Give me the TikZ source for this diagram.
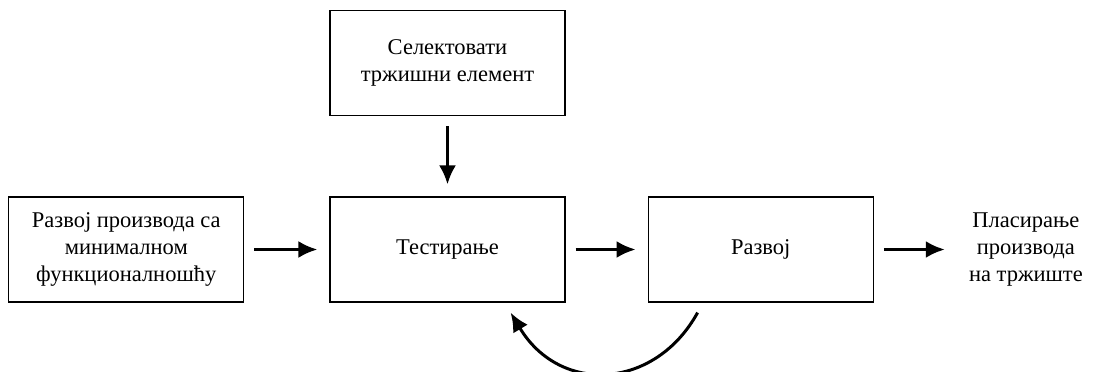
\documentclass[tikz,border=0pt]{standalone}
\usepackage{fontspec}
\setmainfont{Liberation Serif}
\usetikzlibrary{arrows.meta,positioning}

\begin{document}
\begin{tikzpicture}[
  x=1pt, y=1pt,
  node distance=85pt and 85pt,
  txt/.style={font=\fontsize{22.5}{27}\selectfont},
  box/.style={draw, line width=1.2pt, align=center, minimum width=235pt, minimum height=105pt, txt},
  arrow/.style={-{Latex[length=19pt,width=17pt]}, line width=3pt, shorten <=10pt, shorten >=12pt}
]
\useasboundingbox (0,0) rectangle (1109,-372);
\node[box] (test) at (447.5,-249.5) {Тестирање};
\node[box, left=of test] (mvp) {Развој производа са\\минималном\\функционалношћу};
\node[box, above=80pt of test] (select) {Селектовати\\тржишни елемент};
\node[box, minimum width=225pt, right=82pt of test] (razvoj) {Развој};
\node[right=83pt of razvoj, align=center, inner sep=12pt, txt] (plasman) {Пласирање\\производа\\на тржиште};
\draw[arrow] (mvp) -- (test);
\draw[arrow] (select) -- (test);
\draw[arrow] (test) -- (razvoj);
\draw[arrow] (razvoj) -- (plasman);
% povratna petlja
\coordinate (from) at ([shift={(50,-10)}]razvoj.south west);
\coordinate (to) at ([shift={(-55,-10)}]test.south east);
\draw[-{Latex[length=19pt,width=17pt]}, line width=3pt] (from) .. controls (655,-390) and (560,-395) .. (to);
\end{tikzpicture}
\end{document}
